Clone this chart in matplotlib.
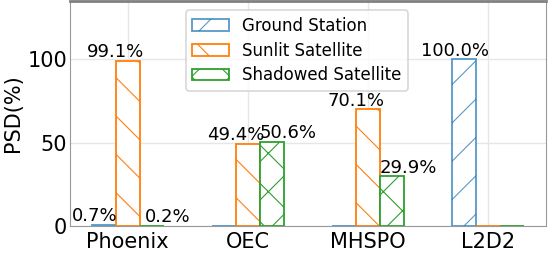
import numpy as np
import matplotlib.pyplot as plt

methods = ["Phoenix", "OEC", "MHSPO", "L2D2"]
series = ["Ground Station", "Sunlit Satellite", "Shadowed Satellite"]
ground = [0.7, 0.0, 0.0, 100.0]
sunlit = [99.1, 49.4, 70.1, 0.0]
shadowed = [0.2, 50.6, 29.9, 0.0]

colors = ["#1f77b4", "#ff7f0e", "#2ca02c"]
hatches = ["/", "\\", "x"]

# sizes are worked out at 100 dpi and scaled, the dpi sets the hatch spacing
dpi = 115
k = 100 / dpi
label_dx = [-6.5 * k, -8.6 * k, 11.5 * k]  # label shift in points, per series

plt.rcParams["hatch.linewidth"] = 0.8 * k

fig, ax = plt.subplots(figsize=(548 / dpi, 258 / dpi), dpi=dpi)
fig.subplots_adjust(left=0.128, right=0.996, top=0.996, bottom=0.124)

x = np.arange(len(methods))
width = 0.2
for i, (name, vals) in enumerate(zip(series, [ground, sunlit, shadowed])):
    bars = ax.bar(x + (i - 1) * width, vals, width, label=name, color="white",
                  edgecolor=colors[i], hatch=hatches[i], linewidth=1.3 * k,
                  alpha=0.75 if i == 0 else 1.0, zorder=3)
    for b, v in zip(bars, vals):
        if v > 0:
            ax.annotate(f"{v:.1f}%", (b.get_x() + b.get_width() / 2, v),
                        xytext=(label_dx[i], 2.5 * k), textcoords="offset points",
                        ha="center", va="baseline", fontsize=13 * k, zorder=4)

ax.set_ylim(0, 135)
ax.set_yticks([0, 50, 100])
ax.set_xticks(x)
ax.set_xticklabels(methods)
ax.tick_params(labelsize=15 * k, length=0)
ax.tick_params(axis="y", pad=2 * k)
ax.set_ylabel("PSD(%)", fontsize=15 * k, labelpad=3 * k)
ax.grid(True, color="#e6e6e6", linewidth=1 * k, zorder=0)
for s in ax.spines.values():
    s.set_color("0.6")
    s.set_linewidth(0.8 * k)
ax.spines["top"].set_linewidth(2 * k)
ax.spines["top"].set_color("0.5")

ax.legend(loc="upper center", bbox_to_anchor=(0.477, 1.0), fontsize=12 * k,
          handlelength=2.2, labelspacing=0.4, borderaxespad=0.55)

plt.savefig("out.png")
